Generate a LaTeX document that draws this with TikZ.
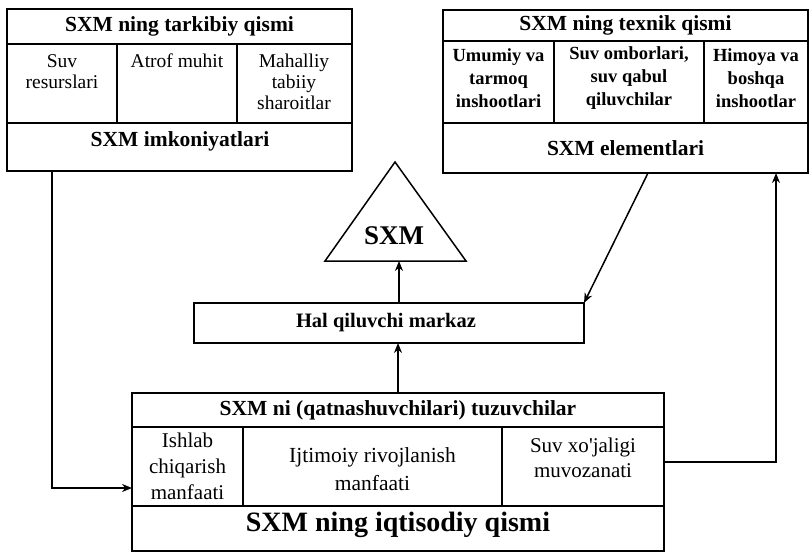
\documentclass[tikz,border=0pt]{standalone}
\usepackage{fontspec}
\setmainfont{Liberation Serif}
\usetikzlibrary{arrows.meta,calc}
\tikzset{
  cell/.style={draw, line width=1.5pt, inner sep=0pt, outer sep=0pt, anchor=north west},
  arr/.style={line width=1.5pt, -{Stealth[length=10pt,width=8pt]}},
  ttl/.style={font=\bfseries\fontsize{21.5}{25}\selectfont, inner sep=0pt},
  subb/.style={font=\bfseries\fontsize{18.5}{23}\selectfont, align=center, inner sep=0pt},
  subr/.style={font=\fontsize{19.5}{21}\selectfont, align=center, inner sep=0pt, anchor=north},
  subrb/.style={font=\fontsize{21.5}{28}\selectfont, align=center, inner sep=0pt},
}
\newcommand\mkcell[5]{\node[cell, minimum width=#4pt, minimum height=#5pt] (#1) at (#2,#3) {};}
\begin{document}
\begin{tikzpicture}[x=1pt,y=-1pt]
\useasboundingbox (0,0) rectangle (810,553);
% left top box
\mkcell{LT}{7}{9}{345}{35}
\mkcell{L1}{7}{44}{110}{79}
\mkcell{L2}{117}{44}{120}{79}
\mkcell{L3}{237}{44}{115}{79}
\mkcell{LB}{7}{123}{345}{48}
\node[ttl] (tLT) at (LT.center) {SXM ning tarkibiy qismi};
\node[subr] (tL1) at (62,54) {Suv\\resurslari};
\node[subr] (tL2) at (177,54) {Atrof muhit};
\node[subr] (tL3) at (294,54) {Mahalliy\\tabiiy\\sharoitlar};
\node[ttl] (tLB) at (180,141) {SXM imkoniyatlari};
% right top box
\mkcell{RT}{443}{10}{365}{31}
\mkcell{R1}{443}{41}{111}{82}
\mkcell{R2}{554}{41}{150}{82}
\mkcell{R3}{704}{41}{104}{82}
\mkcell{RB}{443}{123}{365}{50}
\node[ttl] (tRT) at (RT.center) {SXM ning texnik qismi};
\node[subb] (tR1) at (498.5,78) {Umumiy va\\tarmoq\\inshootlari};
\node[subb] (tR2) at (629,78) {Suv omborlari,\\suv qabul\\qiluvchilar};
\node[subb] (tR3) at (756,78) {Himoya va\\boshqa\\inshootlar};
\node[ttl] (tRB) at (RB.center) {SXM elementlari};
% triangle
\draw[line width=1.5pt, line join=miter] (325,261) -- (395,162) -- (466,261) -- cycle;
\node[font=\bfseries\fontsize{27}{30}\selectfont, inner sep=0pt] (sxm) at (394,236) {SXM};
\coordinate (tbase) at (399,261);
% decision centre
\mkcell{H}{194}{303}{390}{40}
\node[ttl, font=\bfseries\fontsize{20.5}{24}\selectfont] (tH) at (386,323) {Hal qiluvchi markaz};
% bottom box
\mkcell{BT}{132}{393}{532}{34}
\mkcell{B1}{132}{427}{111}{79}
\mkcell{B2}{243}{427}{259}{79}
\mkcell{B3}{502}{427}{162}{79}
\mkcell{BB}{132}{506}{532}{45}
\node[ttl] (tBT) at (BT.center) {SXM ni (qatnashuvchilari) tuzuvchilar};
\node[subrb, font=\fontsize{21}{26}\selectfont] (tB1) at (187.5,466) {Ishlab\\chiqarish\\manfaati};
\node[subrb] (tB2) at (372.5,469) {Ijtimoiy rivojlanish\\manfaati};
\node[subrb, font=\fontsize{21}{25}\selectfont] (tB3) at (583,458) {Suv xo\textquotesingle jaligi\\muvozanati};
\node[font=\bfseries\fontsize{28}{32}\selectfont, inner sep=0pt] (tBB) at (398,525) {SXM ning iqtisodiy qismi};
% connectors
\coordinate (lstart) at ($(LB.south west)+(45,0)$);
\draw[arr] (lstart) |- ([yshift=-21.5pt]B1.west);
\draw[arr] ([yshift=4.5pt]B3.east) -| ($(RB.south west)+(333,0)$);
\draw[arr] ($(RB.south west)+(205,0)$) -- (H.north east);
\draw[arr] (BT.north) -- (BT.north |- H.south);
\draw[arr] (tbase |- H.north) -- (tbase);
\end{tikzpicture}
\end{document}
